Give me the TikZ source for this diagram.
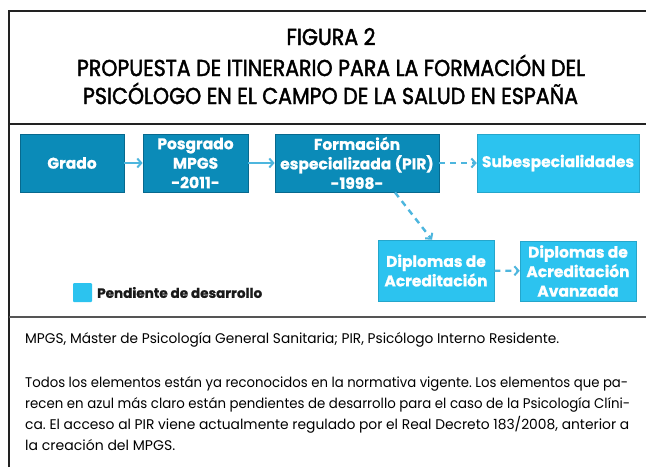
\documentclass[tikz,border=0pt]{standalone}
\usepackage{fontspec}
\setmainfont{Poppins}
\newfontfamily\titlefont[FakeBold=2]{Poppins}
\newfontfamily\boxfont[FakeBold=0.8]{Poppins}
\usepackage{graphicx}
\usetikzlibrary{arrows.meta}
\definecolor{darkbox}{HTML}{0B8BB8}
\definecolor{darkedge}{HTML}{07698E}
\definecolor{lightbox}{HTML}{2CC3EF}
\definecolor{arrowc}{HTML}{4DB6DE}
\definecolor{framec}{HTML}{222222}
\definecolor{rulec}{HTML}{555555}
\definecolor{legtext}{HTML}{1A1A1A}
\newcommand\fitw[2]{\resizebox{#1}{\height}{#2}}
\frenchspacing
\begin{document}
\begin{tikzpicture}[x=1pt,y=-1pt,
  darkstep/.style={draw=darkedge, fill=darkbox, line width=0.8pt, text=white,
    font=\boxfont\bfseries\fontsize{15.5}{19.5}\selectfont, align=center, inner sep=0pt},
  lightstep/.style={draw=lightbox!85!black, fill=lightbox, line width=0.5pt, text=white,
    font=\boxfont\bfseries\fontsize{15.5}{19.5}\selectfont, align=center, inner sep=0pt},
  flow/.style={draw=arrowc, line width=2.4pt, -{Straight Barb[length=4pt,width=9pt,line width=2pt]}},
  dflow/.style={flow, dash pattern=on 6pt off 5pt},
  titlet/.style={anchor=base, inner sep=0pt, text=black, font=\titlefont\fontsize{23}{23}\selectfont},
  foott/.style={anchor=base west, inner sep=0pt, text=black, font=\fontsize{14}{14}\selectfont}
]
\useasboundingbox (0,0) rectangle (646,467);
\fill[white] (0,0) rectangle (646,467);
% frame
\draw[framec, line width=2.2pt] (9,467) -- (9,11) -- (646,11);
\draw[framec, line width=1.8pt] (9,124) -- (646,124);
\draw[rulec, line width=1.6pt] (9,317) -- (646,317);
% title
\node[titlet] (t1) at (331,45) {\fitw{89pt}{FIGURA 2}};
\node[titlet] (t2) at (331,76) {\fitw{508pt}{PROPUESTA DE ITINERARIO PARA LA FORMACIÓN DEL}};
\node[titlet] (t3) at (330.5,104) {\fitw{495pt}{PSICÓLOGO EN EL CAMPO DE LA SALUD EN ESPAÑA}};
% boxes
\node[darkstep, minimum width=104pt, minimum height=58pt] (grado) at (72,163) {Grado};
\node[darkstep, minimum width=105pt, minimum height=58pt] (posg) at (195.5,163) {Posgrado\\MPGS\\-2011-};
\node[darkstep, minimum width=164pt, minimum height=58pt] (form) at (357,163) {Formación\\especializada (PIR)\\-1998-};
\node[lightstep, minimum width=162pt, minimum height=58pt] (sub) at (558,163) {Subespecialidades};
\node[lightstep, minimum width=116pt, minimum height=61pt] (dipl) at (436,270.5) {Diplomas de\\Acreditación};
\node[lightstep, minimum width=116pt, minimum height=60pt] (avan) at (578,271) {Diplomas de\\Acreditación\\Avanzada};
% legend
\node[fill=lightbox, minimum width=19pt, minimum height=19pt, inner sep=0pt, rounded corners=1pt] (legsq) at (82.5,292.5) {};
\node[anchor=west, inner sep=0pt, text=legtext, font=\boxfont\bfseries\fontsize{13.5}{14}\selectfont] (legtx) at (97,292.5) {\fitw{165pt}{Pendiente de desarrollo}};
% connectors
\draw[flow] (grado) -- (posg);
\draw[flow] (posg) -- (form);
\draw[dflow] (form) -- (sub);
\coordinate (d1) at ([xshift=38pt]form.south);
\coordinate (d2) at ([xshift=-4pt]dipl.north);
\draw[dflow] (d1) -- (d2);
\draw[dflow] (dipl) -- (avan);
% footer
\node[foott] (f1) at (25,343) {\fitw{534pt}{MPGS, Máster de Psicología General Sanitaria; PIR, Psicólogo Interno Residente.}};
\node[foott] (f2) at (25,387) {\fitw{603pt}{Todos los elementos están ya reconocidos en la normativa vigente. Los elementos que pa-}};
\node[foott] (f3) at (25,408) {\fitw{605pt}{recen en azul más claro están pendientes de desarrollo para el caso de la Psicología Clíni-}};
\node[foott] (f4) at (25,429) {\fitw{604pt}{ca. El acceso al PIR viene actualmente regulado por el Real Decreto 183/2008, anterior a}};
\node[foott] (f5) at (25,450) {\fitw{150pt}{la creación del MPGS.}};
\end{tikzpicture}
\end{document}
